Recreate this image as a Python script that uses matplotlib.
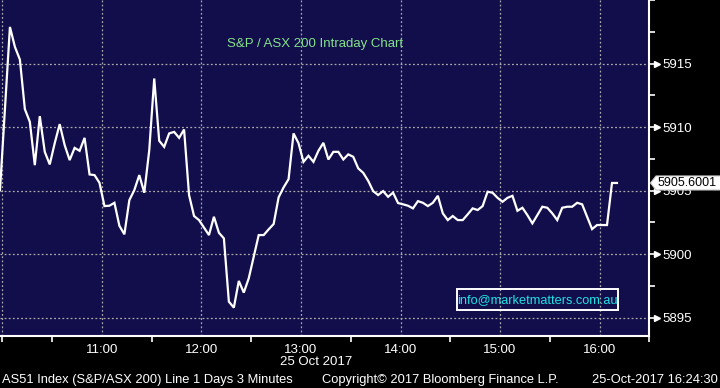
import matplotlib
matplotlib.use("Agg")
import matplotlib.pyplot as plt
from matplotlib.patches import Polygon, Rectangle
import numpy as np

# ---- data (S&P/ASX 200 intraday, 3-minute bars, 25 Oct 2017) ----
first_value = 5905.04          # pre-open point
values = [
    5911.45, 5917.88, 5916.31, 5915.31, 5911.41, 5910.41, 5907.00, 5910.86, 5908.05, 5907.06,
    5908.73, 5910.23, 5908.58, 5907.40, 5908.36, 5908.13, 5909.15, 5906.27, 5906.22, 5905.61,
    5903.78, 5903.81, 5904.04, 5902.23, 5901.56, 5904.25, 5905.04, 5906.22, 5904.83, 5908.18,
    5913.82, 5908.92, 5908.44, 5909.50, 5909.62, 5909.15, 5909.81, 5904.65, 5903.00, 5902.68,
    5902.09, 5901.50, 5902.94, 5901.68, 5901.24, 5896.26, 5895.79, 5897.89, 5896.97, 5898.10,
    5899.80, 5901.50, 5901.50, 5901.95, 5902.37, 5904.47, 5905.25, 5905.90, 5909.50, 5908.73,
    5907.26, 5907.74, 5907.26, 5908.13, 5908.76, 5907.45, 5908.05, 5908.05, 5907.45, 5907.85,
    5907.66, 5906.75, 5906.40, 5905.77, 5904.96, 5904.65, 5904.96, 5904.51, 5904.84, 5904.02,
    5903.92, 5903.81, 5903.60, 5904.17, 5904.04, 5903.78, 5904.04, 5904.59, 5903.21, 5902.68,
    5903.00, 5902.68, 5902.68, 5903.13, 5903.60, 5903.47, 5903.78, 5904.91, 5904.83, 5904.43,
    5904.12, 5904.43, 5904.59, 5903.41, 5903.65, 5903.07, 5902.42, 5903.07, 5903.73, 5903.65,
    5903.21, 5902.68, 5903.65, 5903.73, 5903.73, 5904.04, 5903.92, 5902.94, 5901.97, 5902.29,
    5902.29, 5902.29, 5905.60, 5905.60,
]
last_label = "5905.6001"
hour_labels = ["11:00", "12:00", "13:00", "14:00", "15:00", "16:00"]
y_major = [5895, 5900, 5905, 5910, 5915]
title = "S&P / ASX 200 Intraday Chart"
date_label = "25 Oct 2017"
footer_left = "AS51 Index (S&P/ASX 200) Line 1 Days 3 Minutes"
footer_mid = "Copyright\u00a9 2017 Bloomberg Finance L.P."
footer_right = "25-Oct-2017 16:24:30"
email = "info@marketmatters.com.au"

# x in minutes after 10:00; bars plotted at mid-interval
bar_minutes = 3
x = np.concatenate([[-1.5], 1.5 + bar_minutes * np.arange(len(values))])
y = np.concatenate([[first_value], values])

W, H = 720, 388
FONT = "Liberation Sans"
BG = "#110E4B"

fig = plt.figure(figsize=(W / 100, H / 100), dpi=100, facecolor="black")
ax_l, ax_r, ax_t, ax_b = 0, 649.3, 0, 335.7
ax = fig.add_axes([ax_l / W, 1 - ax_b / H, (ax_r - ax_l) / W, (ax_b - ax_t) / H])
ax.set_facecolor(BG)

ax.plot(x, y, color="white", lw=1.6, solid_joinstyle="miter", zorder=3)

ax.set_xlim(-1.49, 384.1)
ax.set_ylim(5893.58, 5919.98)

# grid
grid_kw = dict(color="#a8a8a8", lw=0.9, ls=(0, (1.5, 1.8)), zorder=1)
for h in range(0, 7):
    ax.axvline(h * 60, **grid_kw)
for v in y_major:
    ax.axhline(v, **grid_kw)

# spines
for s in ["top", "left"]:
    ax.spines[s].set_visible(False)
for s in ["bottom", "right"]:
    ax.spines[s].set_color("white")
    ax.spines[s].set_linewidth(1.5)

# x ticks
ax.set_xticks([60 * (i + 1) for i in range(len(hour_labels))])
ax.set_xticklabels(hour_labels)
ax.set_xticks([0] + [30 + 60 * i for i in range(7)], minor=True)
ax.tick_params(axis="x", which="major", length=0, pad=6, colors="white",
               labelsize=9.5)
ax.tick_params(axis="x", which="minor", length=4, width=1.2, color="white")
for lab in ax.get_xticklabels():
    lab.set_family(FONT)

# y ticks on right
ax.yaxis.tick_right()
ax.set_yticks(y_major)
ax.set_yticklabels([str(v) for v in y_major])
ax.set_yticks(np.arange(5895, 5921, 2.5), minor=True)
ax.tick_params(axis="y", which="major", length=6, width=1.2, pad=3.5,
               colors="white", labelsize=9.5)
ax.tick_params(axis="y", which="minor", length=4, width=1.2, color="white")
ax.tick_params(axis="y", which="minor", labelright=False)
for lab in ax.get_yticklabels():
    lab.set_family(FONT)
ax.plot([1.0125] * len(y_major), y_major, ls="none", marker=">", ms=4.5,
        color="white", transform=ax.get_yaxis_transform(), clip_on=False, zorder=5)

def fx(px):
    return px / W

def fy(py):
    return 1 - py / H

# title
fig.text(fx(315), fy(43.5), title, color="#84E28A", fontsize=9.5, family=FONT,
         ha="center", va="center")

# email box
fig.patches.append(Rectangle((fx(457), fy(310)), fx(618.3) - fx(457), fy(289.3) - fy(310),
                             transform=fig.transFigure, fill=False, ec="white", lw=1.4,
                             zorder=6))
fig.text(fx(537.7), fy(300), email, color="#20E2E6", fontsize=9.2, family=FONT,
         ha="center", va="center", zorder=7)

# last value label
last_y_disp = ax.transData.transform((0, values[-1]))[1]
yc = H - last_y_disp
fig.patches.append(Polygon([(fx(650.5), fy(yc)), (fx(656), fy(yc - 7)), (fx(721), fy(yc - 7)),
                            (fx(721), fy(yc + 7)), (fx(656), fy(yc + 7))],
                           closed=True, transform=fig.transFigure, fc="white",
                           ec="#cccccc", lw=0.8, zorder=8))
fig.text(fx(658), fy(yc + 0.3), last_label, color="black", fontsize=9.0, family=FONT,
         ha="left", va="center", zorder=9)

# date + footer
fig.text(fx(316), fy(361.7), date_label, color="white", fontsize=9.5, family=FONT,
         ha="center", va="center")
fig.text(fx(2), fy(380), footer_left, color="white", fontsize=9.3, family=FONT,
         ha="left", va="center")
fig.text(fx(322), fy(380), footer_mid, color="white", fontsize=9.3, family=FONT,
         ha="left", va="center")
fig.text(fx(718), fy(380), footer_right, color="white", fontsize=9.3, family=FONT,
         ha="right", va="center")

fig.savefig("out.png", dpi=100, facecolor="black")
